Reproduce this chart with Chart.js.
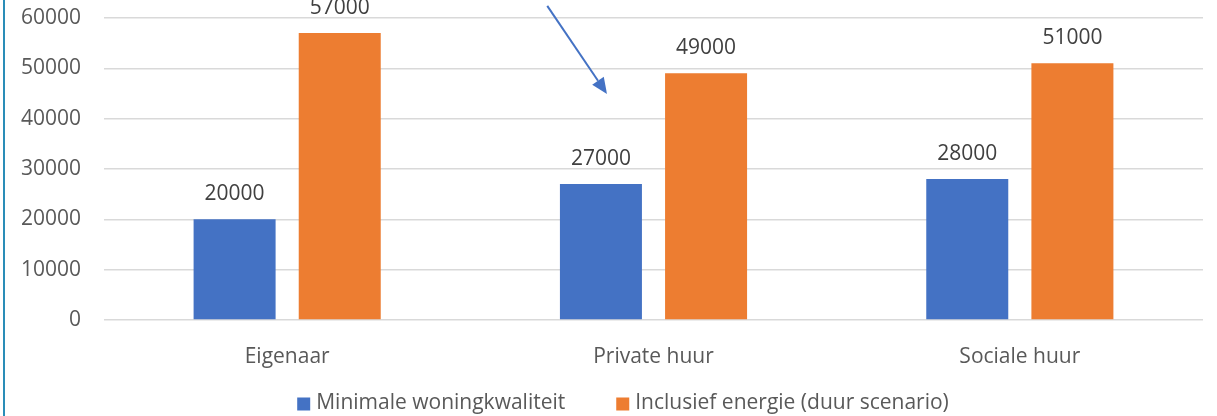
<!DOCTYPE html>
<html>
<head>
<meta charset="utf-8">
<script src="https://cdn.jsdelivr.net/npm/chart.js@4.4.0/dist/chart.umd.min.js"></script>
<style>
  html, body { margin: 0; padding: 0; background: #fff; }
  #wrap { position: relative; width: 1217px; height: 416px; }
  #edge { position: absolute; left: 3px; top: 0; width: 2px; height: 416px; background: #2a8db8; }
  canvas { display: block; }
</style>
</head>
<body>
<div id="wrap">
  <canvas id="barChart" width="1217" height="416"></canvas>
  <div id="edge"></div>
</div>
<script>
var categories = ['Eigenaar', 'Private huur', 'Sociale huur'];
var minimaal = [20000, 27000, 28000];
var inclEnergie = [57000, 49000, 51000];
var seriesNames = ['Minimale woningkwaliteit', 'Inclusief energie (duur scenario)'];
var yTicks = [0, 10000, 20000, 30000, 40000, 50000, 60000];

// arrow annotation, given in chart values (category index, y value)
var arrowFrom = [0.71, 62400];
var arrowTo = [0.873, 44900];

var fontFamily = '"Open Sans", "Noto Sans", sans-serif';

var barLabels = {
  id: 'barLabels',
  afterDatasetsDraw: function (chart) {
    var ctx = chart.ctx;
    ctx.save();
    ctx.font = '21px ' + fontFamily;
    ctx.fillStyle = '#404040';
    ctx.textAlign = 'center';
    ctx.textBaseline = 'middle';
    chart.data.datasets.forEach(function (ds, i) {
      chart.getDatasetMeta(i).data.forEach(function (bar, j) {
        ctx.fillText(ds.data[j], bar.x, bar.y - 25);
      });
    });
    ctx.restore();
  }
};

var arrow = {
  id: 'arrow',
  afterDraw: function (chart) {
    var x = chart.scales.x, y = chart.scales.y;
    var x1 = x.getPixelForValue(arrowFrom[0]), y1 = y.getPixelForValue(arrowFrom[1]);
    var x2 = x.getPixelForValue(arrowTo[0]), y2 = y.getPixelForValue(arrowTo[1]);
    var ang = Math.atan2(y2 - y1, x2 - x1);
    var len = 16, w = 7;
    var ctx = chart.ctx;
    ctx.save();
    ctx.strokeStyle = '#4472c4';
    ctx.fillStyle = '#4472c4';
    ctx.lineWidth = 2;
    ctx.beginPath();
    ctx.moveTo(x1, y1);
    ctx.lineTo(x2 - Math.cos(ang) * len, y2 - Math.sin(ang) * len);
    ctx.stroke();
    ctx.beginPath();
    ctx.moveTo(x2, y2);
    ctx.lineTo(x2 - Math.cos(ang) * len - Math.sin(ang) * w, y2 - Math.sin(ang) * len + Math.cos(ang) * w);
    ctx.lineTo(x2 - Math.cos(ang) * len + Math.sin(ang) * w, y2 - Math.sin(ang) * len - Math.cos(ang) * w);
    ctx.closePath();
    ctx.fill();
    ctx.restore();
  }
};

// legend drawn by hand so box size and spacing match the original
var bottomLegend = {
  id: 'bottomLegend',
  afterDraw: function (chart) {
    var ctx = chart.ctx;
    var box = 13, textGap = 6, itemGap = 51, centerX = 623, midY = 404;
    ctx.save();
    ctx.font = '21px ' + fontFamily;
    ctx.textBaseline = 'middle';
    var items = chart.data.datasets.map(function (ds) {
      return { text: ds.label, color: ds.backgroundColor, w: box + textGap + ctx.measureText(ds.label).width };
    });
    var total = items.reduce(function (s, it) { return s + it.w; }, 0) + itemGap * (items.length - 1);
    var x = centerX - total / 2;
    items.forEach(function (it) {
      ctx.fillStyle = it.color;
      ctx.fillRect(x, midY - box / 2, box, box);
      ctx.fillStyle = '#595959';
      ctx.fillText(it.text, x + box + textGap, midY - 1);
      x += it.w + itemGap;
    });
    ctx.restore();
  }
};

var ctx = document.getElementById('barChart').getContext('2d');
var chart = new Chart(ctx, {
  type: 'bar',
  data: {
    labels: categories,
    datasets: [{
      label: seriesNames[0],
      data: minimaal,
      backgroundColor: '#4472c4'
    }, {
      label: seriesNames[1],
      data: inclEnergie,
      backgroundColor: '#ed7d31'
    }]
  },
  options: {
    responsive: false,
    animation: false,
    categoryPercentage: 0.574,
    barPercentage: 0.78,
    layout: {
      autoPadding: false,
      padding: { top: 18, right: 14, left: 0, bottom: 0 }
    },
    scales: {
      y: {
        min: 0,
        max: 60000,
        afterBuildTicks: function (scale) {
          scale.ticks = yTicks.map(function (v) { return { value: v }; });
        },
        afterFit: function (scale) {
          scale.width = 104;
          scale.paddingTop = 0;
          scale.paddingBottom = 0;
        },
        border: { display: false },
        grid: { color: '#d9d9d9', lineWidth: 1.5, drawTicks: false },
        ticks: {
          padding: 23,
          color: '#595959',
          font: { size: 21, family: fontFamily },
          callback: function (v) { return String(v); }
        }
      },
      x: {
        afterFit: function (scale) { scale.height = 96; },
        border: { display: false },
        grid: { display: false },
        ticks: {
          padding: 16,
          color: '#595959',
          font: { size: 21, family: fontFamily }
        }
      }
    },
    plugins: {
      tooltip: { enabled: false },
      legend: { display: false }
    }
  },
  plugins: [barLabels, arrow, bottomLegend]
});
</script>
</body>
</html>
